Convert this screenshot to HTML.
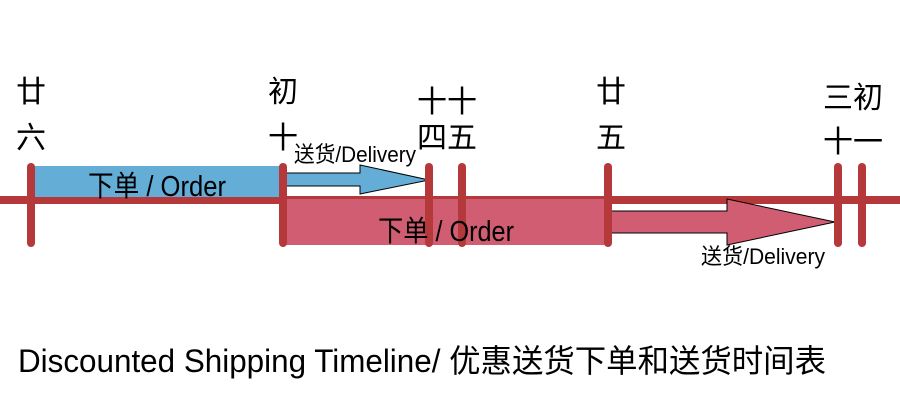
<!DOCTYPE html>
<html><head><meta charset="utf-8"><style>
body{margin:0;width:900px;height:400px;background:#fff;overflow:hidden;}
svg text{font-family:"Liberation Sans","Noto Sans CJK SC",sans-serif;fill:#000;}
</style></head><body>
<svg width="900" height="400" viewBox="0 0 900 400">
<rect x="0" y="196" width="900" height="8" fill="#b5393b"/>
<rect x="33" y="166" width="250" height="31" fill="#63add6"/>
<rect x="285" y="199" width="323" height="46" fill="#d05d72"/>
<polygon points="283,173 360,173 360,165 429,180 360,194 360,186 283,186" fill="#63add6" stroke="#000" stroke-width="1"/>
<polygon points="605,211 727,211 727,199 835,222 727,245 727,233 605,233" fill="#d05d72" stroke="#000" stroke-width="1"/>
<g stroke="#b5393b" stroke-width="8" stroke-linecap="round">
<line x1="31" y1="167" x2="31" y2="243"/>
<line x1="283" y1="167" x2="283" y2="243"/>
<line x1="429" y1="167" x2="429" y2="243"/>
<line x1="462" y1="167" x2="462" y2="243"/>
<line x1="608" y1="167" x2="608" y2="243"/>
<line x1="838" y1="167" x2="838" y2="243"/>
<line x1="862" y1="167" x2="862" y2="243"/>
</g>
<g font-size="30" text-anchor="middle">
<text x="31" y="102">廿</text><text x="31" y="148">六</text>
<text x="283" y="102">初</text><text x="283" y="148">十</text>
<text x="432" y="112">十</text><text x="432" y="148">四</text>
<text x="462" y="112">十</text><text x="462" y="148">五</text>
<text x="611" y="102">廿</text><text x="611" y="148">五</text>
<text x="838" y="108">三</text><text x="838" y="152">十</text>
<text x="868" y="108">初</text><text x="868" y="152">一</text>
</g>
<text x="88" y="196" font-size="29" textLength="138" lengthAdjust="spacingAndGlyphs">下单 / Order</text>
<text x="378" y="241" font-size="29" textLength="136" lengthAdjust="spacingAndGlyphs">下单 / Order</text>
<text x="294" y="162" font-size="22" textLength="122" lengthAdjust="spacingAndGlyphs">送货/Delivery</text>
<text x="701" y="264" font-size="22" textLength="124" lengthAdjust="spacingAndGlyphs">送货/Delivery</text>
<text x="18" y="372" font-size="32" textLength="808" lengthAdjust="spacingAndGlyphs">Discounted Shipping Timeline/ 优惠送货下单和送货时间表</text>
</svg>
</body></html>
